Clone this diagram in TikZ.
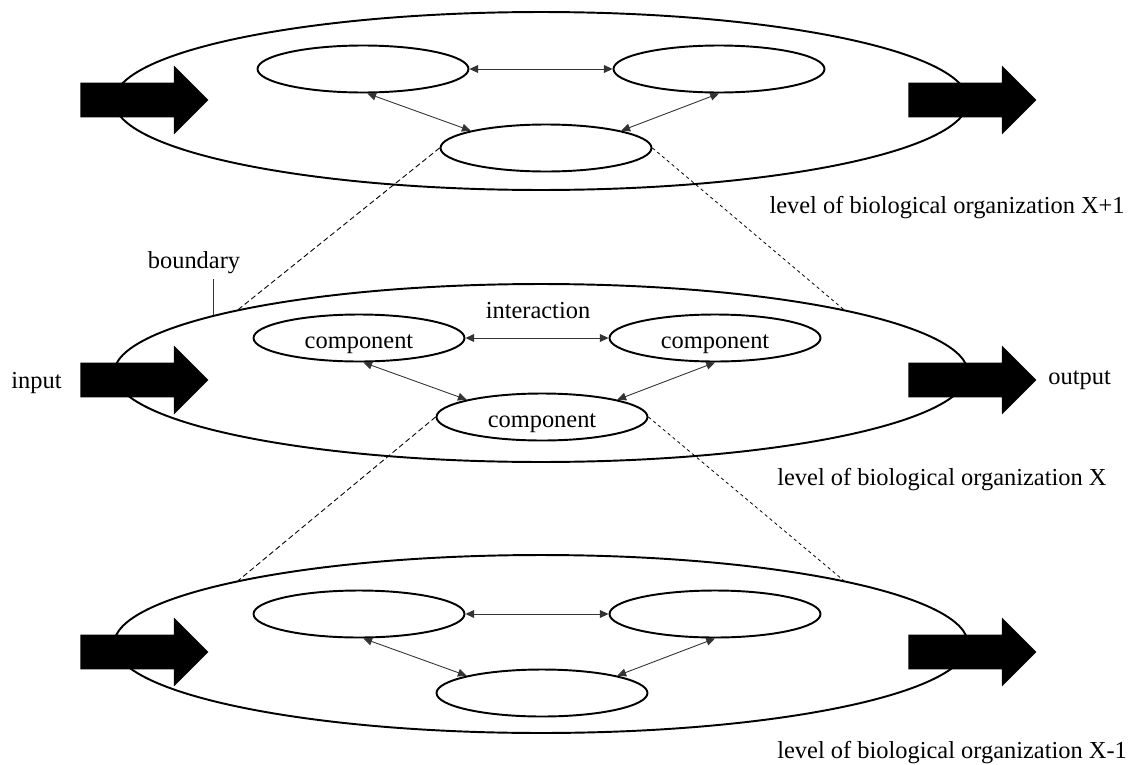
\documentclass[tikz,border=0pt]{standalone}
\usepackage{fontspec}
\setmainfont{Liberation Serif}
\usetikzlibrary{shapes.geometric}
\usetikzlibrary{shapes.arrows}
\usetikzlibrary{arrows.meta}
\tikzset{level/.style = {draw, ellipse, line width=1.1pt, inner sep=0,
                         minimum width=17.08cm, minimum height=3.56cm}}
\tikzset{comp/.style = {draw, ellipse, fill=white, line width=1.1pt, inner sep=0,
                        minimum width=4.22cm, minimum height=0.94cm,
                        text height=11.4pt, text depth=0pt}}
\tikzset{flow/.style = {single arrow, fill, draw=none, anchor=tail,
                        inner xsep=0, inner ysep=0.34cm, minimum height=2.56cm,
                        single arrow head extend=0.34cm}}
\tikzset{link/.style = {{Triangle[length=5pt,width=4.5pt]}-{Triangle[length=5pt,width=4.5pt]},
                        line width=0.5pt, black!80}}
\tikzset{zooml/.style = {line width=0.5pt, dash pattern=on 3pt off 1.8pt}}
\tikzset{zoomr/.style = {line width=0.45pt, dash pattern=on 1.8pt off 1.8pt}}
\tikzset{tag/.style = {inner sep=0, font=\fontsize{13.9}{16}\selectfont}}

\begin{document}
\begin{tikzpicture}[x=0.02cm, y=-0.02cm]
        \useasboundingbox (0,0) rectangle (1135,764);
        \node[level] (bu) at (541,101) {};
        \node[level] (bm) at (541,373) {};
        \node[level] (bd) at (541,644) {};
        \node[flow] (inu) at (80,100) {};
        \node[flow] (outu) at (908,100) {};
        \node[flow] (inm) at (80,380) {};
        \node[flow] (outm) at (908,380) {};
        \node[flow] (ind) at (80,652) {};
        \node[flow] (outd) at (908,652) {};
        \node[comp] (c1u) at (363,69) {};
        \node[comp] (c2u) at (719,69) {};
        \node[comp] (c3u) at (546,148) {};
        \node[comp, tag] (c1m) at (359,338) {component};
        \node[comp, tag] (c2m) at (715,338) {component};
        \node[comp, tag] (c3m) at (542,417) {component};
        \node[comp] (c1d) at (359,614) {};
        \node[comp] (c2d) at (715,614) {};
        \node[comp] (c3d) at (542,693) {};
        \draw[link] (c1u.east) -- (c2u.west);
        \draw[link] (c1u.-80) -- (c3u.north west);
        \draw[link] (c2u.south) -- (c3u.north east);
        \draw[link] (c1m.east) -- (c2m.west);
        \draw[link] (c1m.-80) -- (c3m.north west);
        \draw[link] (c2m.south) -- (c3m.north east);
        \draw[link] (c1d.east) -- (c2d.west);
        \draw[link] (c1d.-80) -- (c3d.north west);
        \draw[link] (c2d.south) -- (c3d.north east);
        \draw[zooml] (c3u.west) -- (bm.north west);
        \draw[zoomr] (c3u.east) -- (bm.north east);
        \draw[zooml] (c3m.west) -- (bd.north west);
        \draw[zoomr] (c3m.east) -- (bd.north east);
        \node[tag, inner sep=3pt, anchor=base] (bnd) at (194,268) {boundary};
        \draw[line width=0.5pt, black!80] (bm.170.5) -- (bm.170.5 |- bnd.south);
        \node[tag, anchor=base] (itr) at (538,318) {interaction};
        \node[tag, anchor=base east] (inp) at (62,388) {input};
        \node[tag, anchor=base west] (outp) at (1048,384) {output};
        \node[tag, anchor=base east] (lvu) at (1125,213) {level of biological organization X+1};
        \node[tag, anchor=base west] (lvm) at (777,485) {level of biological organization X};
        \node[tag, anchor=base west] (lvd) at (777,758) {level of biological organization X-1};
\end{tikzpicture}
\end{document}
